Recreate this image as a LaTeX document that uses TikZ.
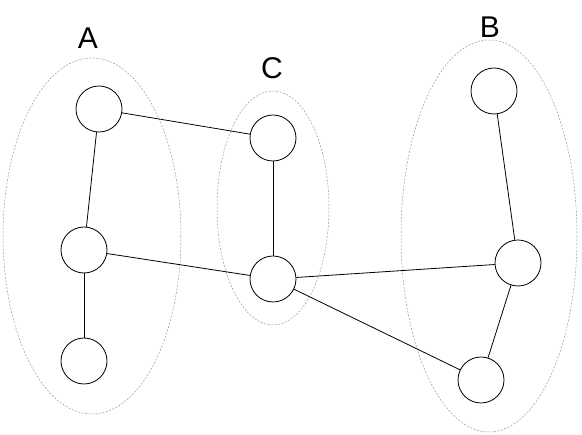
\documentclass[tikz,border=0pt]{standalone}
\usepackage{fontspec}
\setmainfont{Liberation Sans}
\usepackage{tikz}
\usetikzlibrary{positioning}

\begin{document}
\begin{tikzpicture}[x=1pt, y=-1pt, line width=0.8pt,
  vert/.style={circle, draw, minimum size=46pt, inner sep=0pt},
  grp/.style={draw=gray!80, line width=0.5pt, dash pattern=on 2pt off 1.5pt},
  lbl/.style={font=\fontsize{30}{36}\selectfont}]
\useasboundingbox (0,0) rectangle (582,435);
% groups
\draw[grp] (92,236) ellipse [x radius=89, y radius=178];
\draw[grp] (273,208) ellipse [x radius=56, y radius=117];
\draw[grp] (489,236) ellipse [x radius=88, y radius=196];
\node[lbl] (la) at (88,38) {A};
\node[lbl] (lc) at (272,68) {C};
\node[lbl] (lb) at (490,27) {B};
% vertices
\node[vert] (a1) at (99,109) {};
\node[vert] (a2) at (84,250) {};
\node[vert] (a3) at (84,361) {};
\node[vert] (c1) at (273,138) {};
\node[vert] (c2) at (273,279) {};
\node[vert] (b1) at (494,91) {};
\node[vert] (b2) at (518,263) {};
\node[vert] (b3) at (481,380) {};
% edges
\draw (a1) -- (a2);
\draw (a2) -- (a3);
\draw (a1) -- (c1);
\draw (a2) -- (c2);
\draw (c1) -- (c2);
\draw (c2) -- (b2);
\draw (c2) -- (b3);
\draw (b1) -- (b2);
\draw (b2) -- (b3);
\end{tikzpicture}
\end{document}
